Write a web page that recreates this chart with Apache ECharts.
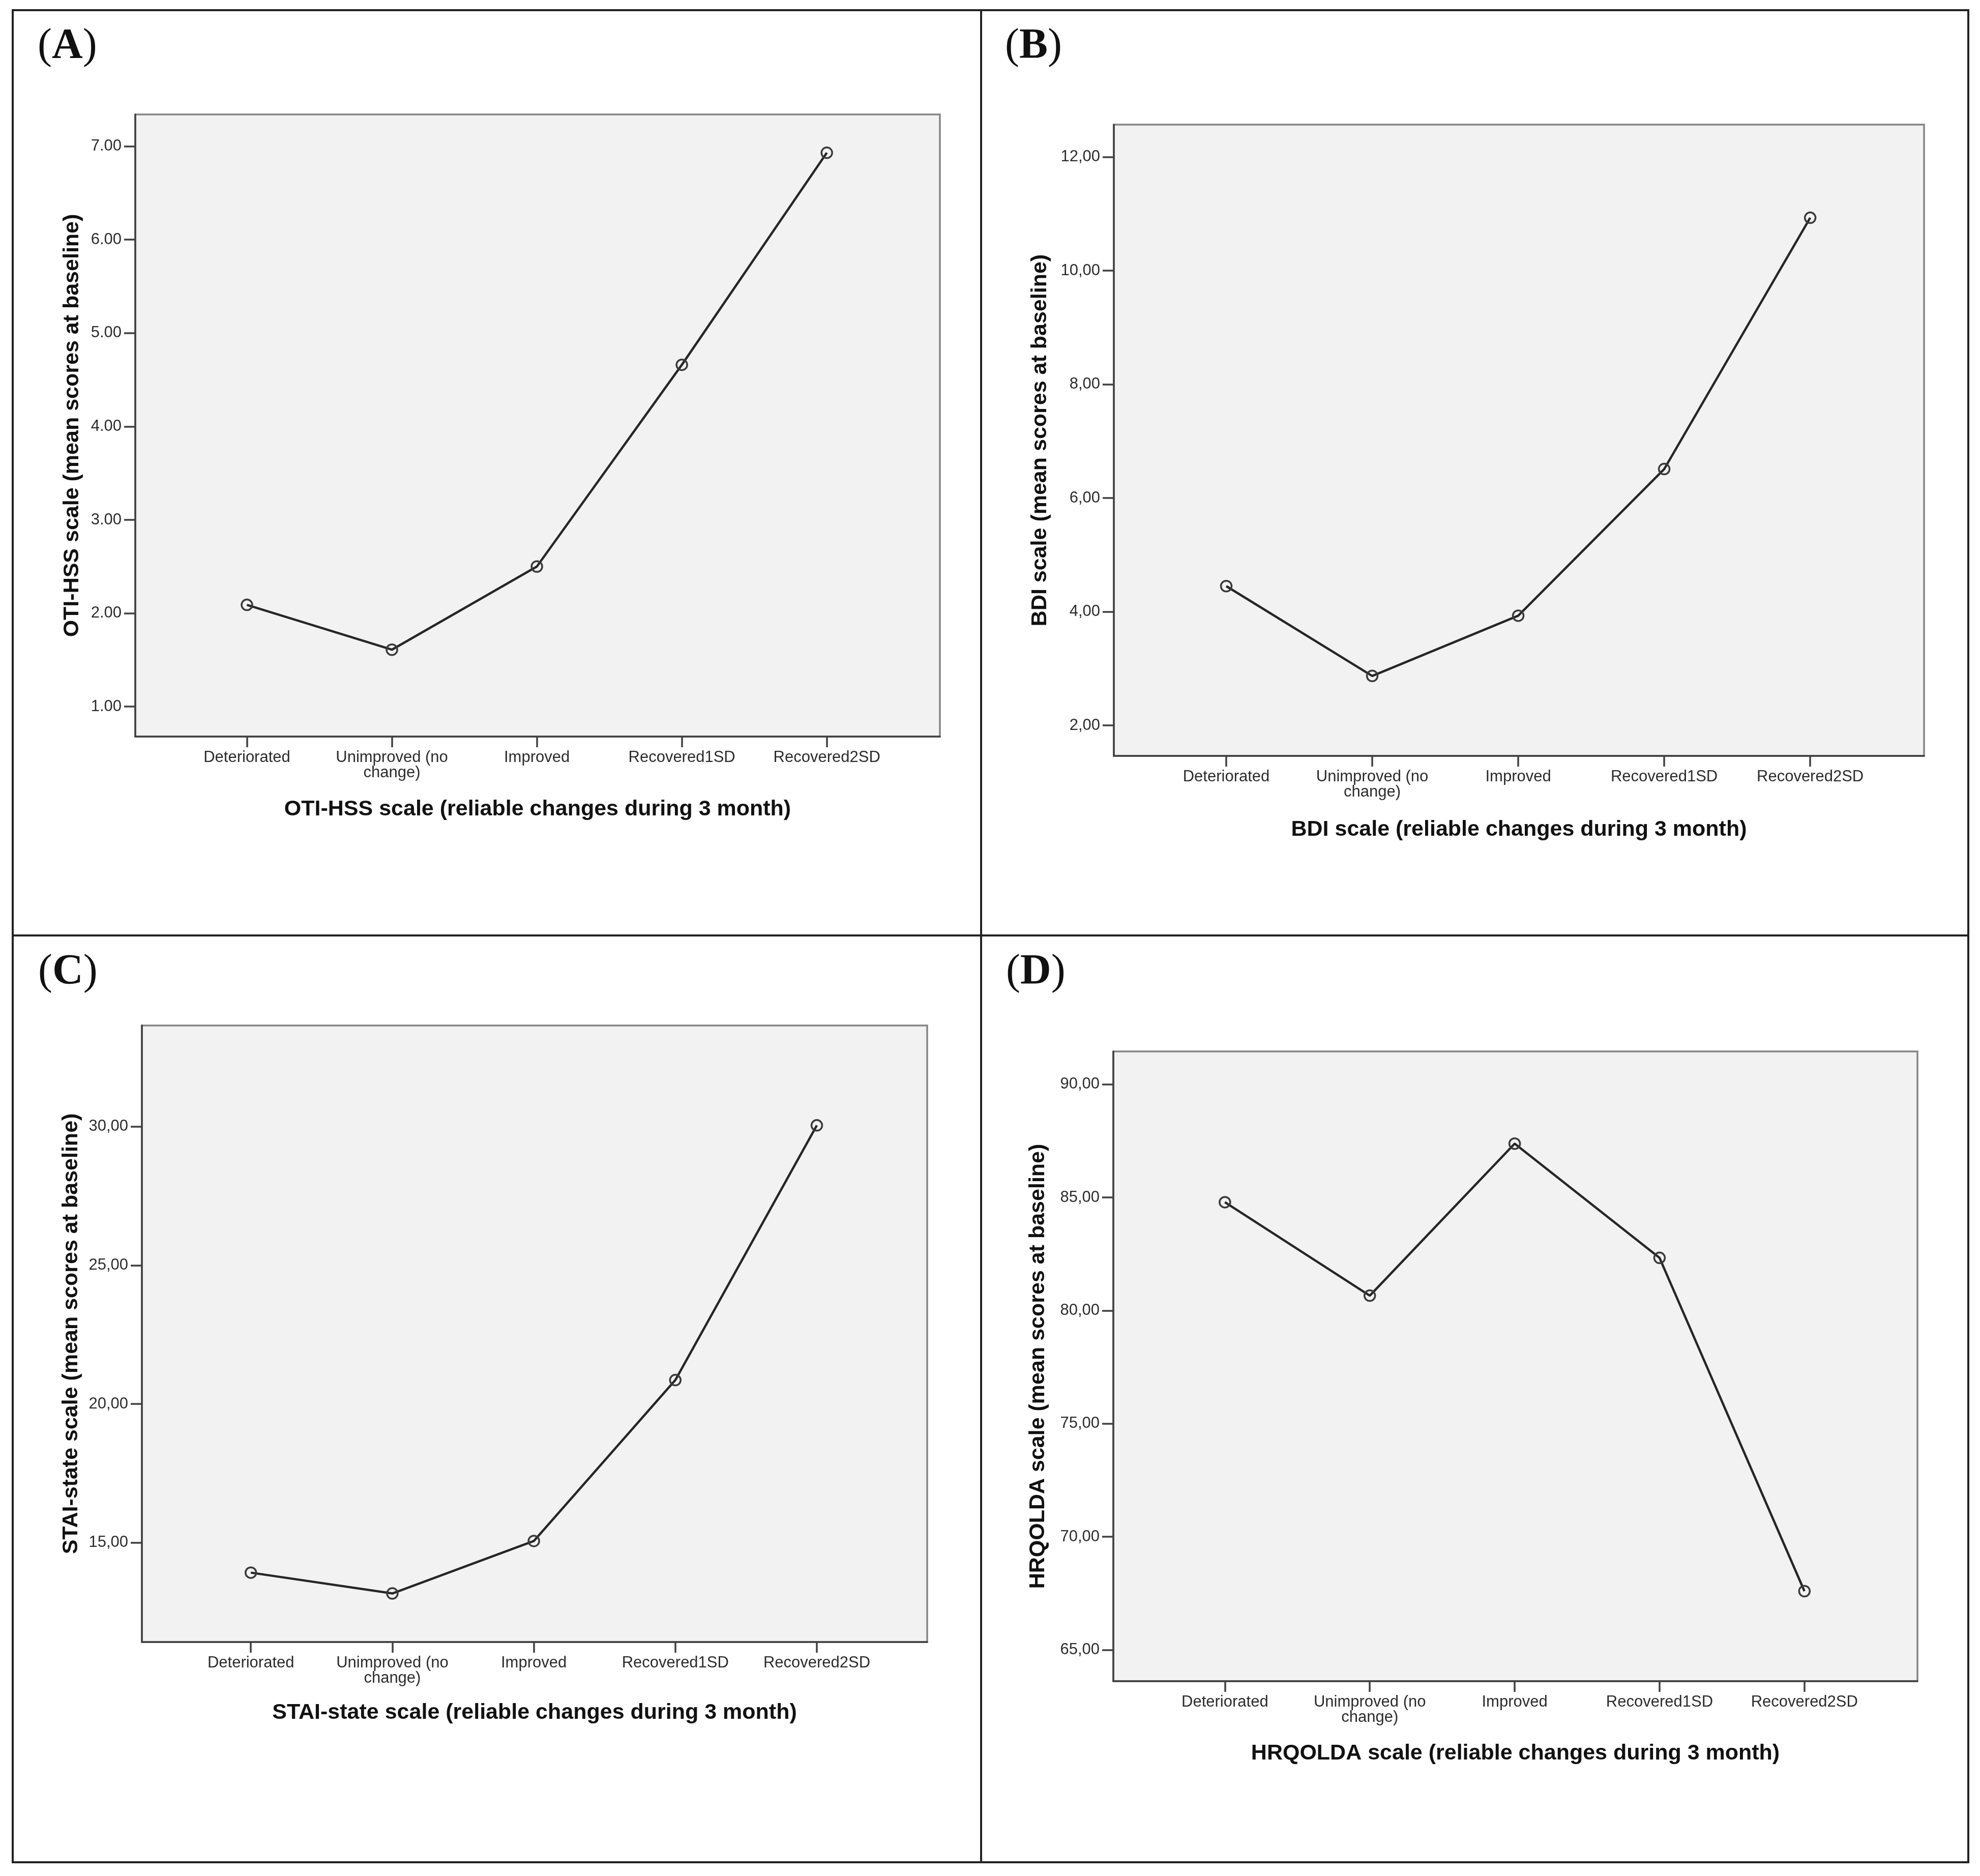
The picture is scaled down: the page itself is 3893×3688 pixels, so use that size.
<!DOCTYPE html>
<html>
<head>
<meta charset="utf-8">
<title>Reliable changes during 3 month</title>
<script src="https://cdn.jsdelivr.net/npm/echarts@6.0.0/dist/echarts.min.js"></script>
<style>
  html, body { margin: 0; padding: 0; background: #fff; }
  #main { width: 3893px; height: 3688px; }
</style>
</head>
<body>
<div id="main"></div>
<script>
// categories shared by the 4 panels
var categories = ['Deteriorated', 'Unimproved (no\nchange)', 'Improved', 'Recovered1SD', 'Recovered2SD'];
var catPos = [0, 1, 2, 3, 4];

// mean scores at baseline
var otiHss = [2.09, 1.61, 2.50, 4.66, 6.93];
var bdi = [4.45, 2.87, 3.93, 6.51, 10.93];
var staiState = [13.92, 13.17, 15.06, 20.86, 30.04];
var hrqolda = [84.79, 80.66, 87.38, 82.33, 67.60];

// y tick values
var otiTicks = [1, 2, 3, 4, 5, 6, 7];
var bdiTicks = [2, 4, 6, 8, 10, 12];
var staiTicks = [15, 20, 25, 30];
var hrqTicks = [65, 70, 75, 80, 85, 90];

var chart = echarts.init(document.getElementById('main'), null, {
    renderer: 'canvas',
    devicePixelRatio: 1
});

// one entry per panel: layout + axis range
var panels = [
    { tag: 'A', data: otiHss, ticks: otiTicks, min: 0.68, max: 7.34, sep: '.',
      name: 'OTI-HSS scale', grid: [266, 225, 1582, 1223], yGap: 102, xGap: 122, lab: [74, 50] },
    { tag: 'B', data: bdi, ticks: bdiTicks, min: 1.464, max: 12.568, sep: ',',
      name: 'BDI scale', grid: [2190, 245, 1593, 1241], yGap: 123, xGap: 124, lab: [1976, 50] },
    { tag: 'C', data: staiState, ticks: staiTicks, min: 11.42, max: 33.64, sep: ',',
      name: 'STAI-state scale', grid: [279, 2016, 1544, 1212], yGap: 117, xGap: 118, lab: [75, 1870] },
    { tag: 'D', data: hrqolda, ticks: hrqTicks, min: 63.62, max: 91.455, sep: ',',
      name: 'HRQOLDA scale', grid: [2189, 2067, 1581, 1238], yGap: 126, xGap: 121, lab: [1978, 1870] }
];

var axisColor = '#404040';
var labelFont = 'Liberation Sans';

var grids = [], xAxes = [], yAxes = [], series = [], titles = [];

panels.forEach(function (p, i) {
    grids.push({
        left: p.grid[0], top: p.grid[1], width: p.grid[2], height: p.grid[3],
        show: true,
        backgroundColor: '#f1f2f1',
        borderColor: '#858585',
        borderWidth: 3.5,
        containLabel: false
    });
    xAxes.push({
        type: 'value',
        gridIndex: i,
        min: -0.77,
        max: 4.78,
        name: p.name + ' (reliable changes during 3 month)',
        nameLocation: 'middle',
        nameGap: p.xGap,
        nameTextStyle: { fontFamily: labelFont, fontSize: 43, fontWeight: 'bold', color: '#111' },
        axisLine: { show: true, onZero: false, lineStyle: { color: axisColor, width: 3.5 } },
        axisTick: { show: true, inside: false, length: 21, customValues: catPos,
            lineStyle: { color: axisColor, width: 3.5 } },
        axisLabel: {
            customValues: catPos,
            margin: 26,
            fontFamily: labelFont,
            fontSize: 31,
            lineHeight: 30,
            color: '#2b2b2b',
            formatter: function (v) { return categories[Math.round(v)]; }
        },
        splitLine: { show: false }
    });
    yAxes.push({
        type: 'value',
        gridIndex: i,
        min: p.min,
        max: p.max,
        name: p.name + ' (mean scores at baseline)',
        nameLocation: 'middle',
        nameGap: p.yGap,
        nameTextStyle: { fontFamily: labelFont, fontSize: 43, fontWeight: 'bold', color: '#111' },
        axisLine: { show: true, onZero: false, lineStyle: { color: axisColor, width: 3.5 } },
        axisTick: { show: true, inside: false, length: 22, customValues: p.ticks,
            lineStyle: { color: axisColor, width: 3.5 } },
        axisLabel: {
            customValues: p.ticks,
            margin: 27,
            fontFamily: labelFont,
            fontSize: 31,
            color: '#2b2b2b',
            formatter: function (v) { return v.toFixed(2).replace('.', p.sep); }
        },
        splitLine: { show: false }
    });
    series.push({
        type: 'line',
        xAxisIndex: i,
        yAxisIndex: i,
        data: p.data.map(function (v, k) { return [catPos[k], v]; }),
        symbol: 'circle',
        symbolSize: 21,
        itemStyle: { color: 'rgba(0,0,0,0)', borderColor: '#3a3a3a', borderWidth: 3.5 },
        lineStyle: { color: '#262626', width: 4.5 },
        emphasis: { disabled: true },
        silent: true
    });
    titles.push({
        left: p.lab[0],
        top: p.lab[1],
        padding: 0,
        text: '{p|(}{b|' + p.tag + '}{p|)}',
        textStyle: {
            fontWeight: 'normal',
            rich: {
                p: { fontFamily: 'Liberation Serif', fontSize: 84, lineHeight: 84, fontWeight: 'normal', color: '#111' },
                b: { fontFamily: 'Liberation Serif', fontSize: 84, lineHeight: 84, fontWeight: 'bold', color: '#111' }
            }
        }
    });
});

var option = {
    animation: false,
    backgroundColor: '#fff',
    title: titles,
    grid: grids,
    xAxis: xAxes,
    yAxis: yAxes,
    series: series,
    // the frame that splits the figure into 4 panels
    graphic: [
        { type: 'rect', shape: { x: 25, y: 20, width: 3845, height: 3641 },
          style: { fill: 'none', stroke: '#222', lineWidth: 4 }, silent: true },
        { type: 'line', shape: { x1: 1929, y1: 20, x2: 1929, y2: 3661 },
          style: { stroke: '#222', lineWidth: 4 }, silent: true },
        { type: 'line', shape: { x1: 25, y1: 1839, x2: 3870, y2: 1839 },
          style: { stroke: '#222', lineWidth: 4 }, silent: true }
    ]
};

chart.setOption(option);
window.addEventListener('resize', chart.resize);
</script>
</body>
</html>
